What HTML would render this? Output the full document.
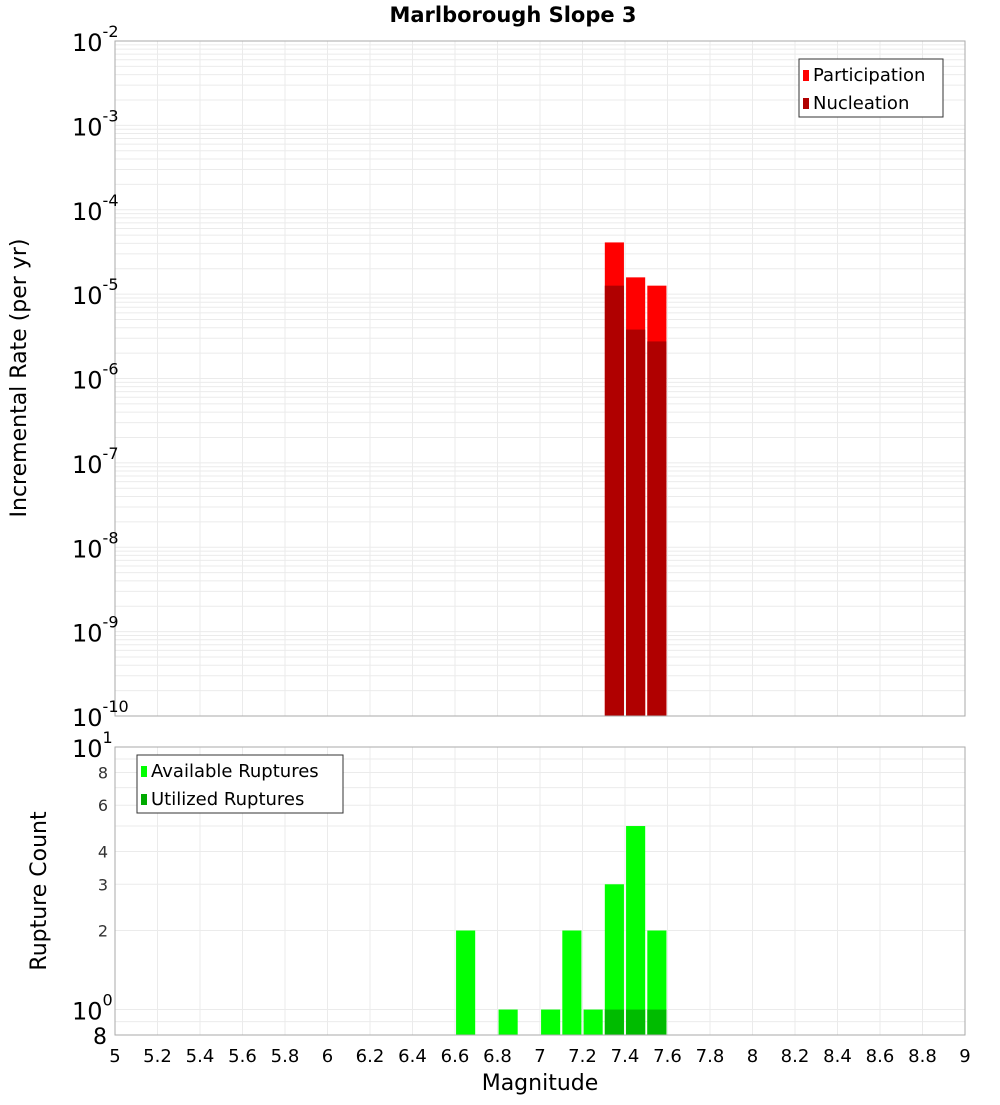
<!DOCTYPE html>
<html><head><meta charset="utf-8"><style>
body{margin:0;background:#fff;width:1000px;height:1100px;overflow:hidden}
svg text{font-family:"DejaVu Sans","Liberation Sans",sans-serif}
</style></head><body>
<svg id="chart" width="1000" height="1100" xmlns="http://www.w3.org/2000/svg">
<text x="513" y="22" text-anchor="middle" font-size="21" font-weight="bold">Marlborough Slope 3</text>
<g id="topg"></g><g id="botg"></g><g id="xaxg"></g>
<text transform="translate(26,378) rotate(-90)" text-anchor="middle" font-size="22">Incremental Rate (per yr)</text>
<text transform="translate(46,891) rotate(-90)" text-anchor="middle" font-size="22">Rupture Count</text>
<text x="540" y="1090" text-anchor="middle" font-size="22">Magnitude</text>
</svg>
<script>
const binCenters=[7.35,7.45,7.55];
const participation=[4.1e-5,1.58e-5,1.26e-5];
const nucleation=[1.26e-5,3.8e-6,2.75e-6];
const countMags=[6.65,6.85,7.05,7.15,7.25,7.35,7.45,7.55];
const available=[2,1,1,2,1,3,5,2];
const utilMags=[7.35,7.45,7.55];
const utilized=[1,1,1];
const xTicks=[5,5.2,5.4,5.6,5.8,6,6.2,6.4,6.6,6.8,7,7.2,7.4,7.6,7.8,8,8.2,8.4,8.6,8.8,9];
const topExp=[-2,-3,-4,-5,-6,-7,-8,-9,-10];

const NS='http://www.w3.org/2000/svg';
const X0=115,X1=965;
const xs=m=>X0+(m-5)/4*(X1-X0);
const T0=41,T1=716;
const yT=v=>T0+(-2-Math.log10(v))/8*(T1-T0);
const B0=747,B1=1035;
const yB=v=>B1-(Math.log10(v)-Math.log10(0.8))/(1-Math.log10(0.8))*(B1-B0);
function el(p,t,a){const e=document.createElementNS(NS,t);for(const k in a)e.setAttribute(k,a[k]);p.appendChild(e);return e;}
const gTop=document.getElementById('topg'),gBot=document.getElementById('botg'),gX=document.getElementById('xaxg');
for(let e=-10;e<-2;e++)for(let k=1;k<10;k++){const y=yT(k*Math.pow(10,e));
 const l=el(gTop,'line',{x1:X0,x2:X1,y1:y,y2:y,stroke:'#ebebeb','stroke-width':1});
 
 }
for(const t of xTicks){const l=el(gTop,'line',{x1:xs(t),x2:xs(t),y1:T0,y2:T1,stroke:'#ebebeb'});
 
 
 const l2=el(gBot,'line',{x1:xs(t),x2:xs(t),y1:B0,y2:B1,stroke:'#ebebeb'});
 
 }
for(const v of [0.9,1,2,3,4,5,6,7,8,9]){const l=el(gBot,'line',{x1:X0,x2:X1,y1:yB(v),y2:yB(v),stroke:'#ebebeb'});
 
 }
const bw=0.09;
binCenters.forEach((m,i)=>{
 const r=el(gTop,'rect',{x:xs(m-bw/2),width:xs(m+bw/2)-xs(m-bw/2),y:yT(participation[i]),height:T1-yT(participation[i]),fill:'#ff0000'});
 
 
 const n=el(gTop,'rect',{x:xs(m-bw/2),width:xs(m+bw/2)-xs(m-bw/2),y:yT(nucleation[i]),height:T1-yT(nucleation[i]),fill:'#b00000'});
 
 });
countMags.forEach((m,i)=>{
 const r=el(gBot,'rect',{x:xs(m-bw/2),width:xs(m+bw/2)-xs(m-bw/2),y:yB(available[i]),height:B1-yB(available[i]),fill:'#00ff00'});
 
 });
utilMags.forEach((m,i)=>{
 const r=el(gBot,'rect',{x:xs(m-bw/2),width:xs(m+bw/2)-xs(m-bw/2),y:yB(utilized[i]),height:B1-yB(utilized[i]),fill:'#00bb00'});
 
 });
const f1=el(gTop,'rect',{x:X0,y:T0,width:X1-X0,height:T1-T0,fill:'none',stroke:'#aaa'});


const f2=el(gBot,'rect',{x:X0,y:B0,width:X1-X0,height:B1-B0,fill:'none',stroke:'#aaa'});


for(const e of topExp){const y=yT(Math.pow(10,e));
 const t=el(gTop,'text',{x:72,y:y+10,'font-size':24});
 
 
 t.textContent='10';const s=el(t,'tspan',{dy:-14,'font-size':16});s.textContent=String(e);}
[[10,'10','1'],[1,'10','0']].forEach(([v,b,sup])=>{const t=el(gBot,'text',{x:72,y:yB(v)+10,'font-size':24});
 
 
 t.textContent=b;const s=el(t,'tspan',{dy:-14,'font-size':16});s.textContent=sup;});
[2,3,4,6,8].forEach(v=>{const t=el(gBot,'text',{x:108,y:yB(v)+6,'font-size':16,'text-anchor':'end',fill:'#333'});
 
 
 t.textContent=v;});
{const t=el(gBot,'text',{x:107,y:B1+9,'font-size':22,'text-anchor':'end'});
 
 
 t.textContent='8';}
for(const v of xTicks){const t=el(gX,'text',{x:xs(v),y:1062,'font-size':18,'text-anchor':'middle'});
 
 
 t.textContent=String(v);}
function legend(g,x0,y0,w,items,name){const lg=el(g,'g',{});
 
 
 el(lg,'rect',{x:x0,y:y0,width:w,height:58,fill:'#fff',stroke:'#333'});
 items.forEach(([c,txt],i)=>{el(lg,'rect',{x:x0+4,y:y0+11+i*28,width:6,height:11,fill:c});
  const t=el(lg,'text',{x:x0+14,y:y0+22+i*28,'font-size':18});t.textContent=txt;});}
legend(gTop,799,59,144,[['#ff0000','Participation'],['#b00000','Nucleation']],'top-legend');
legend(gBot,137,755,206,[['#00ff00','Available Ruptures'],['#00aa00','Utilized Ruptures']],'bottom-legend');
</script>
</body></html>
